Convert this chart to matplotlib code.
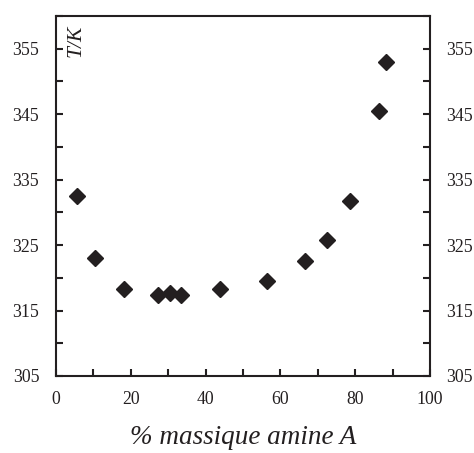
import matplotlib
matplotlib.use('Agg')
import matplotlib.pyplot as plt
from matplotlib.ticker import MultipleLocator

plt.rcParams['font.family'] = ['Liberation Serif', 'DejaVu Serif']

# mass fraction of amine A (%) and temperature (K)
mass_pct = [5.5, 10.5, 18.2, 27.4, 30.5, 33.5, 44.0, 56.4, 66.7, 72.5, 78.6, 86.3, 88.3]
temp_K = [332.5, 323.0, 318.3, 317.3, 317.6, 317.3, 318.3, 319.5, 322.5, 325.7, 331.8, 345.4, 353.0]

y_ticks = [305, 315, 325, 335, 345, 355]
x_ticks = [0, 20, 40, 60, 80, 100]

ink = '#231f20'

fig = plt.figure(figsize=(4.74, 4.53), dpi=100)
ax = fig.add_axes([0.118, 0.170, 0.789, 0.795])

ax.plot(mass_pct, temp_K, linestyle='none', marker='D', markersize=7.8, color=ink)

ax.set_xlim(0, 100)
ax.set_ylim(305, 360)
ax.set_xticks(x_ticks)
ax.set_yticks(y_ticks)
ax.xaxis.set_minor_locator(MultipleLocator(10))
ax.yaxis.set_minor_locator(MultipleLocator(5))

ax.tick_params(axis='y', which='both', direction='in', left=True, right=True,
               labelleft=True, labelright=True, length=5, width=1.5, color=ink,
               labelsize=12.8, labelcolor=ink, pad=12)
ax.tick_params(axis='x', which='both', direction='in', bottom=True, top=False,
               length=5, width=1.5, color=ink, labelsize=12.8, labelcolor=ink, pad=11)

for s in ax.spines.values():
    s.set_linewidth(1.5)
    s.set_color(ink)

ax.set_xlabel('% massique amine A', fontsize=19.5, style='italic', color=ink, labelpad=12)
ax.text(0.055, 0.975, 'T/K', transform=ax.transAxes, rotation=90, fontsize=15.5,
        style='italic', color=ink, ha='center', va='top')

fig.savefig('out.png', dpi=100)
